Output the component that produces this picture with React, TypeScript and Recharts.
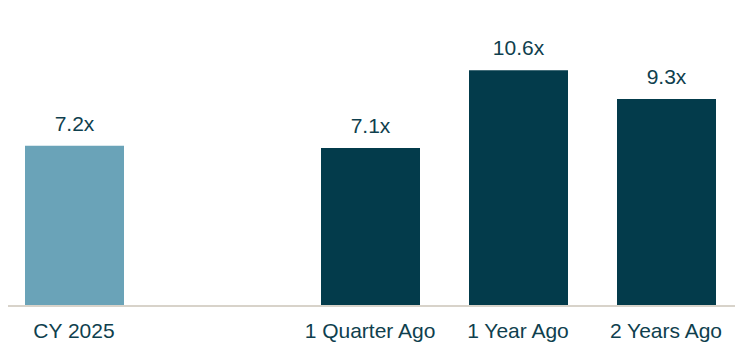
import React from 'react'
import { BarChart, Bar, XAxis, YAxis, Cell, LabelList } from 'recharts'

const categories = ['CY 2025', '', '1 Quarter Ago', '1 Year Ago', '2 Years Ago']
const multiples: (number | null)[] = [7.2, null, 7.1, 10.6, 9.3]
const barColors = ['#6AA3B8', '#033B4B', '#033B4B', '#033B4B', '#033B4B']

const data = categories.map((name, i) => ({ name, value: multiples[i] }))

const textColor = '#0F3F4E'
const font = 'Arial, "Liberation Sans", sans-serif'

const App = () => {
  return (
    <div style={{ margin: '-8px 0 0 -8px', width: 743, height: 347, fontFamily: font }}>
      <BarChart width={743} height={347} data={data} margin={{ top: 39, right: 3, bottom: 0, left: 0 }} barSize={99}>
        <XAxis
          dataKey="name"
          axisLine={{ stroke: '#D8D3CA', strokeWidth: 2 }}
          tickLine={false}
          tickSize={0}
          tickMargin={17}
          height={41}
          interval={0}
          tick={{ fill: textColor, fontSize: 21, fontFamily: font }}
        />
        <YAxis hide domain={[0, 12]} />
        <Bar dataKey="value" isAnimationActive={false}>
          {data.map((d, i) => (
            <Cell key={i} fill={barColors[i]} />
          ))}
          <LabelList
            dataKey="value"
            position="top"
            offset={15}
            formatter={(v: any) => (v == null ? '' : `${Number(v).toFixed(1)}x`)}
            style={{ fill: textColor, fontSize: 21, fontFamily: font }}
          />
        </Bar>
      </BarChart>
    </div>
  )
}

export default App
